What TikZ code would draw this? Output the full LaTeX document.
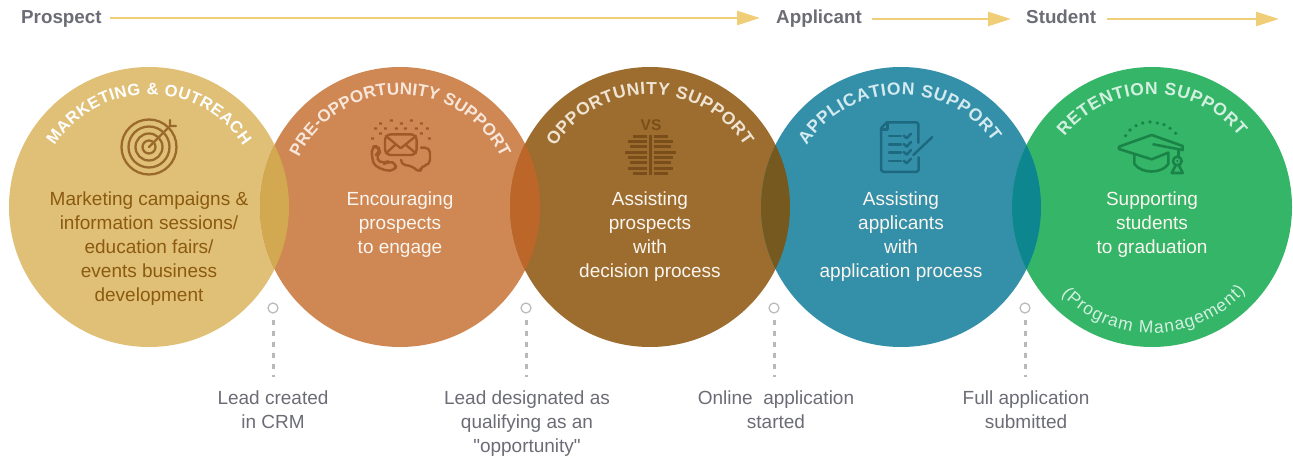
\documentclass[tikz,border=0pt]{standalone}
\usepackage{fontspec}
\setmainfont{Liberation Sans}
\newfontfamily\plainq{Liberation Sans}
\usetikzlibrary{decorations.text,arrows.meta,calc}
\definecolor{cA}{HTML}{E0C077}\definecolor{cB}{HTML}{CF8753}\definecolor{cC}{HTML}{9D6D2F}
\definecolor{cD}{HTML}{3490A9}\definecolor{cE}{HTML}{35B568}
\definecolor{oAB}{HTML}{D2A850}\definecolor{oBC}{HTML}{BC662A}\definecolor{oCD}{HTML}{75591F}\definecolor{oDE}{HTML}{0E8690}
\definecolor{iA}{HTML}{9A6A2C}\definecolor{iB}{HTML}{A05A28}\definecolor{iC}{HTML}{7A4E1A}\definecolor{iD}{HTML}{1D6A80}\definecolor{iE}{HTML}{1A8448}
\definecolor{tA}{HTML}{FFFFFF}\definecolor{tB}{HTML}{F7E6DA}\definecolor{tC}{HTML}{EFE3D2}\definecolor{tD}{HTML}{D3EAF0}\definecolor{tE}{HTML}{D2F0DF}
\definecolor{bodyA}{HTML}{8B5A0F}\definecolor{bodyW}{HTML}{FBF5EF}
\definecolor{gry}{HTML}{6B6C75}\definecolor{dashg}{HTML}{B9B8BC}\definecolor{arr}{HTML}{F0CE78}
\newcommand{\arctxt}[7]{\path[decorate,decoration={text along path,text align=fit to path,text={|#6|#7}}] ($(#1,#2)+(#4:#3)$) arc[start angle=#4,end angle=#5,radius=#3];}
\tikzset{
  x=1pt,y=1pt,
  stagelabel/.style={font=\fontsize{18.8}{22}\selectfont\bfseries,text=gry,inner sep=0pt,anchor=base west},
  flow/.style={draw=arr,line width=2.6pt,-{Triangle[length=23pt,width=14pt,fill=arr]}},
  body/.style={font=\fontsize{19}{24}\selectfont,align=center,inner sep=0pt,anchor=north},
  mile/.style={circle,draw=dashg,fill=white,line width=1.2pt,minimum size=10pt,inner sep=0pt},
  milelabel/.style={font=\fontsize{19}{24}\selectfont,align=center,inner sep=0pt,anchor=north,text=gry},
  tick/.style={draw=dashg,line width=3pt,dash pattern=on 5.5pt off 5.5pt},
  ic/.style={line width=#1,line join=round,line cap=round},
  ic/.default=2.3pt,
  zs/.style 2 args={shift={(#1pt,#2pt)},x=0.3333pt,y=-0.3333pt},
}
\newcommand{\tfont}[1]{\fontsize{#1}{20}\selectfont\bfseries}
\begin{document}
\begin{tikzpicture}
\useasboundingbox (0,0) rectangle (1293,459);
% circles
\fill[cA] (149,252) circle[radius=140];
\fill[cB] (400,252) circle[radius=140];
\fill[cC] (650,252) circle[radius=140];
\fill[cD] (901,252) circle[radius=140];
\fill[cE] (1152,252) circle[radius=140];
\begin{scope}\clip (149,252) circle[radius=140];\fill[oAB] (400,252) circle[radius=140];\end{scope}
\begin{scope}\clip (400,252) circle[radius=140];\fill[oBC] (650,252) circle[radius=140];\end{scope}
\begin{scope}\clip (650,252) circle[radius=140];\fill[oCD] (901,252) circle[radius=140];\end{scope}
\begin{scope}\clip (901,252) circle[radius=140];\fill[oDE] (1152,252) circle[radius=140];\end{scope}
% top flow
\node[stagelabel] (p) at (21,435) {Prospect};
\node[stagelabel] (a) at (776,435) {Applicant};
\node[stagelabel] (s) at (1026,435) {Student};
\coordinate (e) at (1279,440);
\draw[flow] ([xshift=8pt,yshift=6pt]p.base east) -- ([xshift=-16pt,yshift=6pt]a.base west);
\draw[flow] ([xshift=10pt,yshift=5pt]a.base east) -- ([xshift=-15pt,yshift=5pt]s.base west);
\draw[flow] ([xshift=11pt,yshift=5pt]s.base east) -- (e);
% arc titles
\arctxt{149}{252}{112.5}{147}{33}{\tfont{16.5}\color{tA}}{MARKETING {\&} OUTREACH}
\arctxt{400}{252}{112.5}{154}{26}{\tfont{17}\color{tB}}{PRE-OPPORTUNITY SUPPORT}
\arctxt{650}{252}{112.5}{147.5}{32.5}{\tfont{17.5}\color{tC}}{OPPORTUNITY SUPPORT}
\arctxt{901}{252}{112.5}{147}{35}{\tfont{17.5}\color{tD}}{APPLICATION SUPPORT}
\arctxt{1152}{252}{112.5}{141}{39}{\tfont{17.5}\color{tE}}{RETENTION SUPPORT}
\arctxt{1152}{252}{126}{224}{318}{\fontsize{17.5}{20}\selectfont\color{tE}}{(Program Management)}
% body
\node[body,text=bodyA] (b1) at (149,267) {Marketing campaigns \&\\information sessions/\\education fairs/\\events business\\development};
\node[body,text=bodyW] (b2) at (400,267) {Encouraging\\prospects\\to engage};
\node[body,text=bodyW] (b3) at (650,267) {Assisting\\prospects\\with\\decision process};
\node[body,text=bodyW] (b4) at (901,267) {Assisting\\applicants\\with\\application process};
\node[body,text=bodyW] (b5) at (1152,267) {Supporting\\students\\to graduation};
% milestones
\node[mile] (m1) at (273,151) {};
\node[mile] (m2) at (526,151) {};
\node[mile] (m3) at (774,151) {};
\node[mile] (m4) at (1025,151) {};
\node[milelabel] (l1) at (273,68) {Lead created\\in CRM};
\node[milelabel] (l2) at (527,68) {Lead designated as\\qualifying as an\\{\plainq"}opportunity{\plainq"}};
\node[milelabel] (l3) at (776,68) {Online\ \ application\\started};
\node[milelabel] (l4) at (1026,68) {Full application\\submitted};
\draw[tick] ([yshift=-6pt]m1.south) -- (m1.south |- 0,82);
\draw[tick] ([yshift=-6pt]m2.south) -- (m2.south |- 0,82);
\draw[tick] ([yshift=-6pt]m3.south) -- (m3.south |- 0,82);
\draw[tick] ([yshift=-6pt]m4.south) -- (m4.south |- 0,82);
% target icon
\begin{scope}[draw=iA,ic]
\draw (149,312) circle[radius=27.5];
\draw (149,312) circle[radius=20.5];
\draw (149,312) circle[radius=13.5];
\draw (149,312) circle[radius=6.5];
\draw (149,312) -- (170,333) (170,339)--(170,333)--(176,333);
\end{scope}
% contact icon
\begin{scope}[zs={340}{359},draw=iB,ic]
\draw[line width=2.4pt,rounded corners=6pt] (135,103) rectangle (230,165);
\draw (138,108) -- (182,145) -- (228,108) (138,160)--(165,135) (228,160)--(198,135);
\draw[line width=2.4pt,rounded corners=5pt] (115,138) -- (95,140) -- (96,175) .. controls (105,200) and (130,212) .. (165,212) -- (170,190) -- (145,184) -- (132,192) .. controls (120,185) and (112,175) .. (108,165) -- (120,157) -- cycle;
\draw[line width=2.4pt,rounded corners=5pt] (243,143) -- (270,143) -- (270,195) -- (243,197) -- (241,220) -- (215,197) -- (183,195) -- (183,180);
\fill[iB] (150,58) rectangle (159,65) (210,58) rectangle (219,65)
 (117,67) rectangle (126,74) (180,67) rectangle (189,74) (240,67) rectangle (249,74)
 (102,82) rectangle (111,89) (132,82) rectangle (141,89) (165,82) rectangle (174,89) (192,82) rectangle (201,89) (225,82) rectangle (234,89) (258,82) rectangle (267,89)
 (117,97) rectangle (126,104) (240,97) rectangle (249,104)
 (93,112) rectangle (102,119) (264,112) rectangle (273,119);
\end{scope}
% VS icon
\begin{scope}[zs={600}{359}]
\node[font=\fontsize{15.5}{16}\selectfont\bfseries,text=iC,inner sep=0pt] (vs) at (153,76) {VS};
\fill[iC] (147,105) rectangle (156,225);
\foreach \yy/\aa/\bb in {110/100/204,125/84/219,140/90/213,157/75/228,172/84/219,187/90/213,205/84/219,220/100/204}{
  \fill[iC] (\aa,\yy-4.5) rectangle (141,\yy+4.5);
  \fill[iC] (162,\yy-4.5) rectangle (\bb,\yy+4.5);
}
\end{scope}
% checklist icon
\begin{scope}[zs={850}{359},draw=iD,ic=2.5pt]
\draw (205,128) -- (205,72) -- (200,67) -- (110,67) -- (93,85) -- (93,210) -- (100,216) -- (200,216) -- (206,210) -- (206,172);
\draw (112,67) -- (112,88) -- (93,88);
\draw (117,108) -- (153,108) (117,133) -- (153,133) (117,157) -- (153,157) (117,183) -- (153,183);
\foreach \yy in {108,133,157,183}{\draw (161,\yy-1) -- (170,\yy+7) -- (183,\yy-7);}
\draw (190,165) -- (245,113);
\fill[iD] (246,111) circle[radius=4];
\end{scope}
% graduation icon
\begin{scope}[zs={1100}{359},draw=iE,ic=2.6pt]
\draw (57,140) -- (155,105) -- (248,138) -- (248,150) -- (160,133) (57,140) -- (57,147) -- (155,178) -- (205,158);
\draw (103,162) -- (103,192) .. controls (125,222) and (185,222) .. (205,192) -- (205,158);
\draw (235,150) -- (235,170);
\draw (232,183) circle[radius=13];
\draw (226,198) -- (215,219) -- (248,219) -- (238,198);
\fill[iE] (232,183) circle[radius=4];
\foreach \xx/\yy in {77/107,90/90,108/77,128/69,150/66,172/69,192/74,210/85,227/100}{\fill[iE] (\xx,\yy) circle[radius=5.5];}
\end{scope}
\end{tikzpicture}
\end{document}
